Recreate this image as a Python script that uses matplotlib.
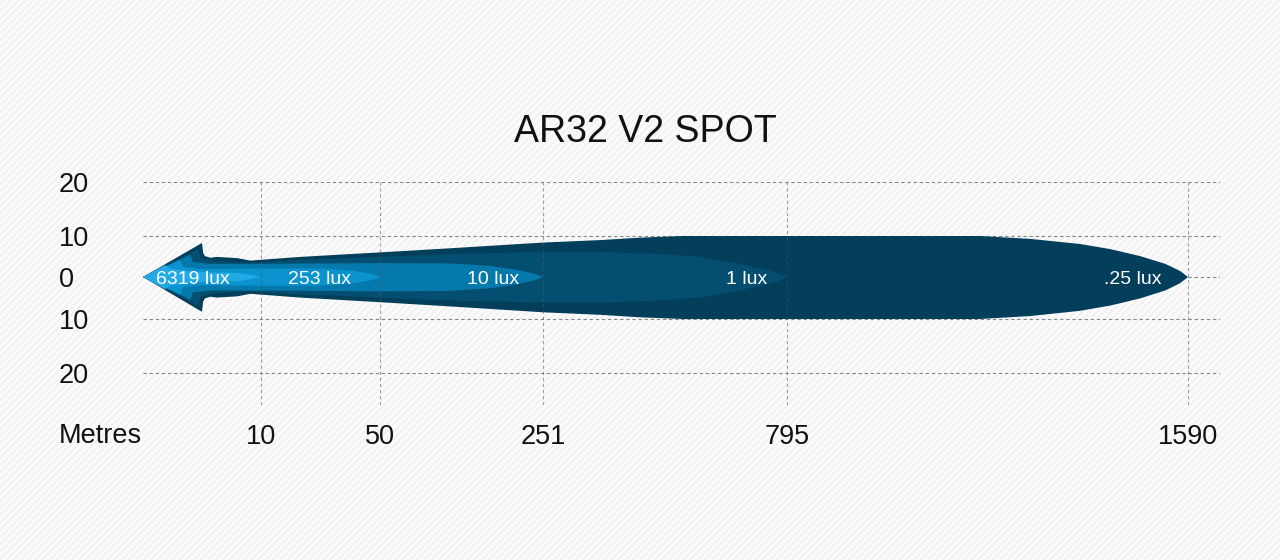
import numpy as np
import matplotlib.pyplot as plt
from matplotlib.patches import Polygon

plt.rcParams['font.family'] = ['Liberation Sans', 'DejaVu Sans']

TITLE = "AR32 V2 SPOT"

# distance ticks (metres) and lateral ticks (metres either side of centre)
DIST_TICKS = [10, 50, 251, 795, 1590]
SIDE_TICKS = [20, 10, 0, -10, -20]
SIDE_LABELS = ['20', '10', '0', '10', '20']

# the chart's distance axis is not linear, these are its break points
X_KNOTS_M = [-10, 0, 10, 50, 251, 795, 1590, 2400]
X_KNOTS_P = [-118, 0, 118, 237, 400, 644, 1045, 1453]
Y_KNOTS_M = [-40, -20, -10, 0, 10, 20, 40]
Y_KNOTS_P = [-204, -96, -42, 0, 41, 95, 203]

# isolux outlines: distance (m) and half width (m)
LUX_LABELS = ['.25 lux', '1 lux', '10 lux', '253 lux', '6319 lux']
LUX_COLORS = ['#033e5b', '#044f71', '#0579ab', '#0a93cf', '#23a9e3']
LUX_AT = [1480, 704, 190, 29.8, 4.2]

d_025 = [0, 5.0, 5.1, 5.25, 5.7, 6.27, 8.0, 9.1, 23.1, 50, 136, 251, 378, 467, 563,
         1178, 1277, 1376, 1436, 1495, 1545, 1574, 1590]
w_025 = [0, 8.3, 5.85, 5.1, 4.7, 4.9, 4.6, 4.0, 4.9, 6.0, 7.0, 8.4, 9.0, 9.6, 10,
         10, 9.3, 8.05, 6.8, 5.1, 3.2, 1.5, 0]

d_1 = [0, 4.66, 4.9, 6.1, 8.9, 23.1, 50, 136, 251, 378, 490, 601, 690, 735, 775, 795]
w_1 = [0, 6.8, 4.6, 3.9, 3.4, 4.15, 4.9, 5.6, 6.1, 6.1, 5.7, 4.9, 3.2, 2.1, 1.0, 0]

d_10 = [0, 4.0, 4.24, 5.7, 10, 50, 136, 186, 217, 239, 251]
w_10 = [0, 5.4, 3.66, 3.2, 3.2, 3.4, 3.3, 2.7, 1.8, 0.85, 0]

d_253 = [0, 3.14, 3.4, 4.83, 10, 29.8, 39.9, 46.6, 50.7]
w_253 = [0, 4.15, 2.44, 1.95, 2.07, 2.07, 1.6, 0.85, 0]

d_6319 = [0, 1.86, 2.46, 4.83, 8.2, 10.1]
w_6319 = [0, 2.9, 1.95, 1.2, 0.98, 0]

OUTLINES = [(d_025, w_025), (d_1, w_1), (d_10, w_10), (d_253, w_253), (d_6319, w_6319)]


def x_fwd(v):
    return np.interp(v, X_KNOTS_M, X_KNOTS_P)


def x_inv(p):
    return np.interp(p, X_KNOTS_P, X_KNOTS_M)


def y_fwd(v):
    return np.interp(v, Y_KNOTS_M, Y_KNOTS_P)


def y_inv(p):
    return np.interp(p, Y_KNOTS_P, Y_KNOTS_M)


fig = plt.figure(figsize=(12.8, 5.6), dpi=100)

# striped background
yy, xx = np.mgrid[0:560, 0:1280]
phase = ((xx + yy) % 7.2) / 7.2
val = 0.972 + 0.024 * np.cos(2 * np.pi * phase)
fig.figimage(np.dstack([val, val, val]), 0, 0, origin='upper', zorder=-5)

ax = fig.add_axes([143 / 1280, 155 / 560, 1077 / 1280, 223 / 560])
ax.set_facecolor('none')
ax.set_xscale('function', functions=(x_fwd, x_inv))
ax.set_yscale('function', functions=(y_fwd, y_inv))
ax.set_xlim(0, float(x_inv(1077)))
ax.set_ylim(float(y_inv(-128)), 20)

dash = (0, (3, 2.5))
for y in SIDE_TICKS:
    ax.axhline(y, color='#555555', lw=0.8, ls=dash, alpha=0.7, zorder=1)

for (d, w), col in zip(OUTLINES, LUX_COLORS):
    top = list(zip(d, w))
    bot = list(zip(d[::-1], [-v for v in w[::-1]]))
    ax.add_patch(Polygon(top + bot, closed=True, facecolor=col, edgecolor='none', zorder=2))

for x in DIST_TICKS:
    ax.axvline(x, color='#555555', lw=0.8, ls=dash, alpha=0.55, zorder=4)

for lab, at in zip(LUX_LABELS, LUX_AT):
    ax.text(at, 0, lab, ha='center', va='center_baseline', color='white', fontsize=14, zorder=5)

for s in ax.spines.values():
    s.set_visible(False)

ax.set_xticks(DIST_TICKS, labels=[str(v) for v in DIST_TICKS])
ax.set_yticks(SIDE_TICKS, labels=SIDE_LABELS)
ax.minorticks_off()
ax.tick_params(axis='x', length=0, pad=14, labelsize=19.5, labelcolor='#111111')
ax.tick_params(axis='y', length=0, pad=60.5, labelsize=19.5, labelcolor='#111111')
for t in ax.get_yticklabels():
    t.set_horizontalalignment('left')

fig.text(645 / 1280, 1 - 132 / 560, TITLE, ha='center', va='center', fontsize=27, color='#111111')
fig.text(59 / 1280, 1 - 436 / 560, 'Metres', ha='left', va='center', fontsize=19.5, color='#111111')

fig.savefig('out.png', dpi=100)
